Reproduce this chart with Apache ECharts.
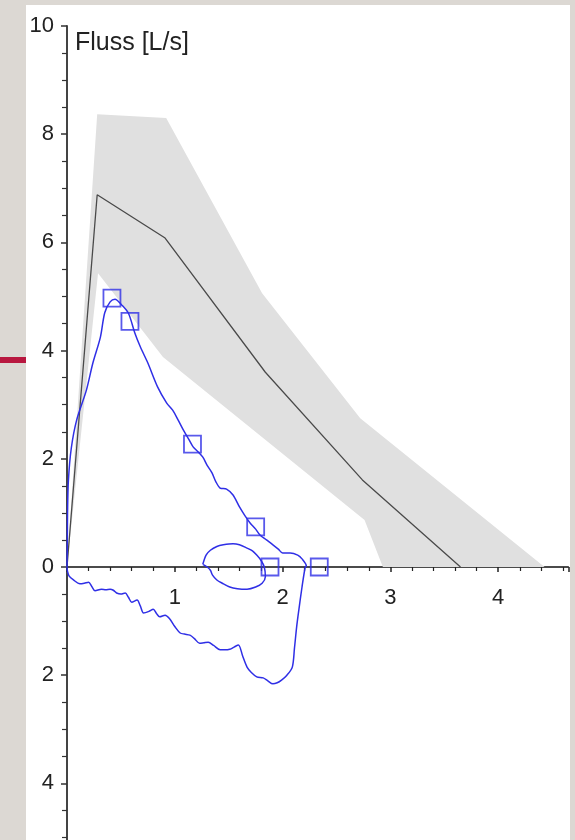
<!DOCTYPE html>
<html>
<head>
<meta charset="utf-8">
<script src="https://cdn.jsdelivr.net/npm/echarts@6/dist/echarts.min.js"></script>
<style>
  html, body { margin: 0; padding: 0; background: #dcd8d3; }
  #panel { position: absolute; left: 26px; top: 5px; width: 544px; height: 835px; background: #fff; }
  #mark { position: absolute; left: 0; top: 357px; width: 26px; height: 6px; background: #b8173f; }
  #chart { position: absolute; left: 0; top: 0; width: 575px; height: 840px; }
</style>
</head>
<body>
<div id="panel"></div>
<div id="mark"></div>
<div id="chart"></div>
<script>
// Referenzband (Sollwerte): obere und untere Grenze
var bandUpX = [0, 0.28, 0.92, 1.81, 2.72, 4.43];
var bandUpY = [0, 8.37, 8.3, 5.06, 2.75, 0];
var bandLowX = [0, 0.288, 0.89, 2.76, 2.93];
var bandLowY = [0, 5.43, 3.88, 0.87, 0];

// Sollkurve
var meanX = [0, 0.28, 0.91, 1.84, 2.74, 3.65];
var meanY = [0, 6.88, 6.08, 3.6, 1.61, 0];

// gemessene Fluss-Volumen-Kurve (Exspiration, dann Inspiration zurueck)
var expX = [0, 0.003, 0.005, 0.013, 0.04, 0.09, 0.18, 0.24, 0.31, 0.35, 0.40, 0.445, 0.51, 0.57, 0.63, 0.68, 0.75, 0.84, 0.925, 0.98, 1.03, 1.08, 1.13, 1.17, 1.22, 1.26, 1.30, 1.345, 1.38, 1.42, 1.48, 1.54, 1.60, 1.65, 1.70, 1.75, 1.79, 1.85, 1.91, 1.96, 2.0, 2.07, 2.14, 2.18, 2.22];
var expY = [0, 0.5, 1.0, 1.6, 2.2, 2.72, 3.27, 3.77, 4.25, 4.7, 4.9, 4.95, 4.84, 4.69, 4.32, 4.07, 3.77, 3.33, 3.03, 2.9, 2.72, 2.53, 2.36, 2.22, 2.12, 2.03, 1.88, 1.74, 1.58, 1.46, 1.44, 1.33, 1.11, 0.95, 0.81, 0.7, 0.59, 0.5, 0.41, 0.33, 0.26, 0.26, 0.22, 0.15, 0.02];
var inspX = [2.21, 2.18, 2.15, 2.13, 2.11, 2.09, 2.04, 1.99, 1.95, 1.91, 1.86, 1.82, 1.76, 1.71, 1.67, 1.63, 1.59, 1.55, 1.51, 1.46, 1.42, 1.36, 1.31, 1.27, 1.23, 1.18, 1.14, 1.09, 1.05, 1.0, 0.95, 0.91, 0.86, 0.83, 0.8, 0.76, 0.71, 0.68, 0.65, 0.6, 0.57, 0.54, 0.5, 0.46, 0.43, 0.4, 0.36, 0.32, 0.26, 0.23, 0.2, 0.16, 0.12, 0.06, 0.02, 0.005, 0];
var inspY = [0, -0.37, -0.8, -1.11, -1.5, -1.85, -2.0, -2.09, -2.14, -2.16, -2.1, -2.05, -2.03, -1.95, -1.85, -1.65, -1.44, -1.48, -1.52, -1.53, -1.53, -1.45, -1.39, -1.4, -1.41, -1.32, -1.26, -1.24, -1.22, -1.1, -0.95, -0.89, -0.92, -0.86, -0.78, -0.82, -0.85, -0.72, -0.61, -0.65, -0.56, -0.48, -0.5, -0.48, -0.43, -0.41, -0.42, -0.41, -0.44, -0.36, -0.28, -0.3, -0.31, -0.24, -0.17, -0.08, 0];

// kleine Atemschleife
var loopX = [1.26, 1.29, 1.33, 1.39, 1.45, 1.54, 1.6, 1.67, 1.72, 1.76, 1.8, 1.83, 1.84, 1.81, 1.75, 1.67, 1.58, 1.51, 1.44, 1.39, 1.35, 1.33, 1.3, 1.26];
var loopY = [0.05, 0.22, 0.31, 0.38, 0.41, 0.43, 0.41, 0.35, 0.3, 0.22, 0.12, 0.0, -0.18, -0.3, -0.37, -0.41, -0.4, -0.37, -0.3, -0.24, -0.15, -0.06, 0.0, 0.05];

// Markierungen (Quadrate)
var markX = [0.417, 0.584, 1.164, 1.75, 1.883, 2.34];
var markY = [4.97, 4.54, 2.27, 0.74, 0, 0];

function zip(a, b) {
    var out = [];
    for (var i = 0; i < a.length; i++) out.push([a[i], b[i]]);
    return out;
}

var blue = '#2f2fe6';
var font = 'Helvetica, Arial, "Liberation Sans", sans-serif';
var curve = zip(expX, expY).concat(zip(inspX, inspY));

// Raster: y von -6 bis 10, Nulllinie bei 567px
var gridTop = 26, gridH = 865.6;
var zeroOffset = (gridTop + gridH) - (gridTop + gridH * 10 / 16);

var myChart = echarts.init(document.getElementById('chart'));
var option = {
    animation: false,
    backgroundColor: 'transparent',
    grid: {left: 67, top: gridTop, width: 501.3, height: gridH, containLabel: false, outerBoundsMode: 'none'},
    graphic: [{
        type: 'text', left: 75, top: 31,
        style: {text: 'Fluss [L/s]', fill: '#222', font: '25px ' + font}
    }],
    xAxis: {
        type: 'value', min: 0, max: 4.65, interval: 1,
        offset: -zeroOffset,
        axisLine: {onZero: false, lineStyle: {color: '#111', width: 1.5}},
        axisTick: {show: true, length: 5, lineStyle: {color: '#222', width: 1.5}},
        minorTick: {show: true, splitNumber: 5, length: 4, lineStyle: {color: '#222', width: 1.2}},
        splitLine: {show: false},
        axisLabel: {
            color: '#222', fontSize: 22, fontFamily: font, margin: 20, showMaxLabel: false,
            formatter: function (v) { return v === 0 ? '' : String(v); }
        }
    },
    yAxis: {
        type: 'value', min: -6, max: 10, interval: 2,
        axisLine: {lineStyle: {color: '#444', width: 2}},
        axisTick: {show: true, length: 6, lineStyle: {color: '#333', width: 1.5}},
        minorTick: {show: true, splitNumber: 4, length: 5, lineStyle: {color: '#333', width: 1.2}},
        splitLine: {show: false},
        axisLabel: {
            color: '#222', fontSize: 22, fontFamily: font, margin: 13,
            formatter: function (v) { return String(Math.abs(v)); }
        }
    },
    series: [
        {
            type: 'custom', z: 1, silent: true,
            data: [0],
            renderItem: function (params, api) {
                var pts = [];
                for (var i = 0; i < bandUpX.length; i++) pts.push(api.coord([bandUpX[i], bandUpY[i]]));
                for (var j = bandLowX.length - 1; j >= 0; j--) pts.push(api.coord([bandLowX[j], bandLowY[j]]));
                return {type: 'polygon', shape: {points: pts}, style: {fill: '#e0e0e0', stroke: null}};
            }
        },
        {
            type: 'line', z: 2, data: zip(meanX, meanY), showSymbol: false,
            lineStyle: {color: '#4a4a4a', width: 1.3}
        },
        {
            type: 'line', z: 3, data: curve, showSymbol: false, smooth: 0.3,
            lineStyle: {color: blue, width: 1.5}
        },
        {
            type: 'line', z: 3, data: zip(loopX, loopY), showSymbol: false, smooth: 0.3,
            lineStyle: {color: blue, width: 1.5}
        },
        {
            type: 'scatter', z: 4, data: zip(markX, markY), symbol: 'rect', symbolSize: 17,
            itemStyle: {color: 'rgba(0,0,0,0)', borderColor: blue, borderWidth: 1.8}
        }
    ]
};
myChart.setOption(option);
</script>
</body>
</html>
